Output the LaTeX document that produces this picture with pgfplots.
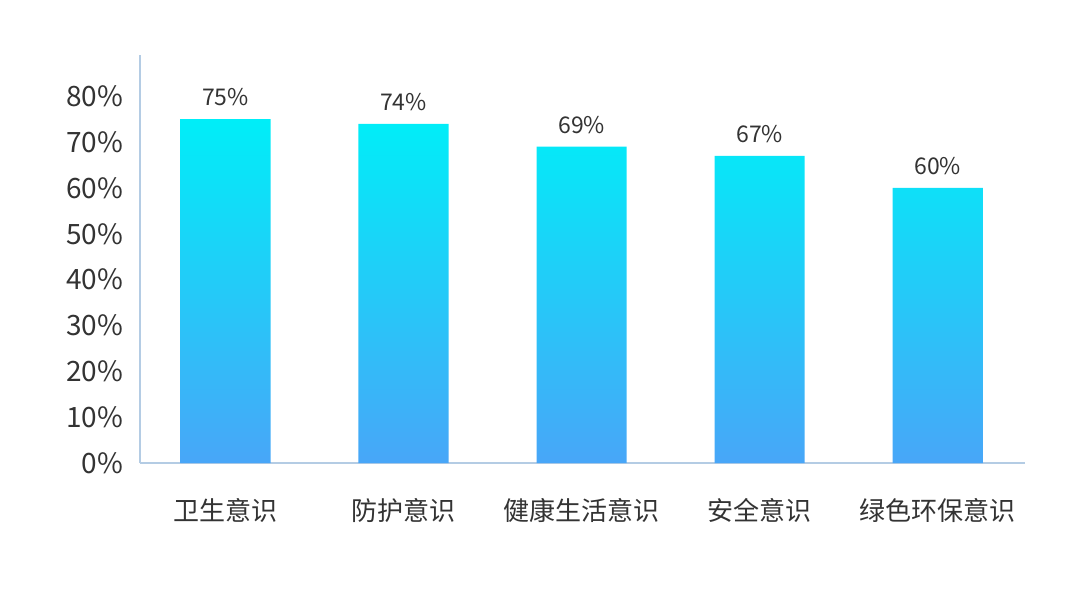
\documentclass[border=0pt]{standalone}
\usepackage{fontspec}
\setmainfont{Noto Sans CJK SC}
\usepackage{pgfplots}
\pgfplotsset{compat=1.18}

\definecolor{bartop}{HTML}{00EEF8}
\definecolor{barbot}{HTML}{48A6F8}
\definecolor{axisline}{HTML}{B4CCE4}
\definecolor{txt}{HTML}{333333}

\begin{document}
\begin{tikzpicture}
\begin{axis}[
  width=442.5pt, height=204pt,
  scale only axis,
  xmin=-0.48, xmax=4.49,
  ymin=0, ymax=89,
  axis x line*=bottom,
  axis y line*=left,
  axis line style={axisline, line width=0.8pt},
  major tick length=0pt,
  xtick=data,
  xticklabels={卫生意识,防护意识,健康生活意识,安全意识,绿色环保意识},
  ytick={0,10,...,80},
  yticklabel={\pgfmathprintnumber{\tick}\%},
  /pgf/number format/assume math mode=true,
  tick label style={txt},
  yticklabel style={font=\fontsize{14}{16}\selectfont, xshift=-5pt},
  xticklabel style={font=\fontsize{13}{15}\selectfont, yshift=-14pt},
  ybar, bar width=0.506,
  nodes near coords={\pgfmathprintnumber{\pgfplotspointmeta}\%},
  nodes near coords style={txt, font=\fontsize{11.5}{13}\selectfont, yshift=3pt},
  clip=false,
]
\addplot[draw=none, top color=bartop, bottom color=barbot]
  coordinates {(0,75) (1,74) (2,69) (3,67) (4,60)};
\end{axis}
\useasboundingbox (-70pt,-66.5pt) rectangle (470pt,231.5pt);
\end{tikzpicture}
\end{document}
